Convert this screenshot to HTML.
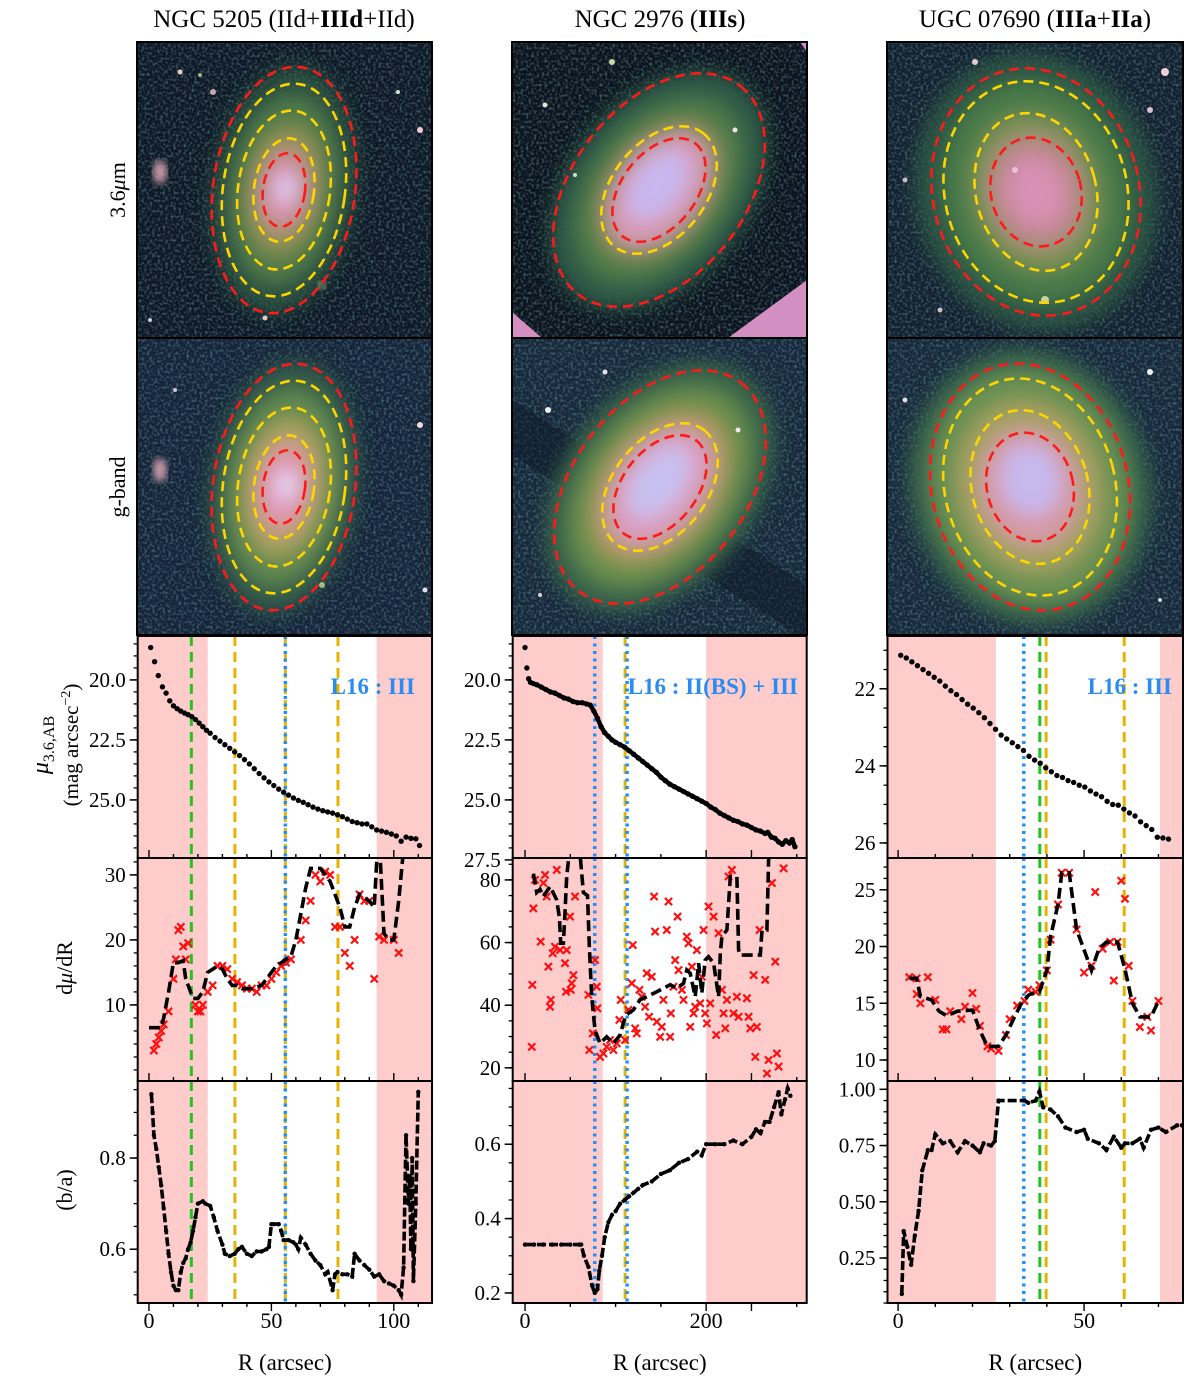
<!DOCTYPE html>
<html><head><meta charset="utf-8">
<style>
html,body{margin:0;padding:0;background:#fff;}
svg{display:block;font-family:"Liberation Serif","DejaVu Serif",serif;}
text{font-family:"Liberation Serif","DejaVu Serif",serif;}
</style></head>
<body>
<svg id="fig" width="1200" height="1392" viewBox="0 0 1200 1392" xmlns="http://www.w3.org/2000/svg" font-family="Liberation Serif, DejaVu Serif, serif">
<defs>
  <filter id="noise" x="0" y="0" width="100%" height="100%">
    <feTurbulence type="fractalNoise" baseFrequency="0.38" numOctaves="1" seed="3" result="t"/>
    <feColorMatrix in="t" type="matrix" values="0 0 0 0 0.12  0 0 0 0 0.30  0 0 0 0 0.30  0 0 0 1.6 -0.72"/>
  </filter>
  <filter id="blur8"><feGaussianBlur stdDeviation="9"/></filter>
  <filter id="blur4"><feGaussianBlur stdDeviation="4"/></filter>
  <clipPath id="c1a"><rect x="137" y="42" width="295" height="296"/></clipPath>
  <clipPath id="c1b"><rect x="137" y="338" width="295" height="297"/></clipPath>
  <clipPath id="c2a"><rect x="512" y="42" width="295" height="296"/></clipPath>
  <clipPath id="c2b"><rect x="512" y="338" width="295" height="297"/></clipPath>
  <clipPath id="c3a"><rect x="887" y="42" width="296" height="296"/></clipPath>
  <clipPath id="c3b"><rect x="887" y="338" width="296" height="297"/></clipPath>
</defs>

<text x="284" y="27" font-size="25" text-anchor="middle">NGC 5205 (IId+<tspan font-weight="bold">IIId</tspan>+IId)</text>
<text x="660" y="27" font-size="25" text-anchor="middle">NGC 2976 (<tspan font-weight="bold">IIIs</tspan>)</text>
<text x="1035" y="27" font-size="25" text-anchor="middle">UGC 07690 (<tspan font-weight="bold">IIIa</tspan>+<tspan font-weight="bold">IIa</tspan>)</text>

<text transform="translate(125,190) rotate(-90)" font-size="22" text-anchor="middle">3.6<tspan font-style="italic">μ</tspan>m</text>
<text transform="translate(125,487) rotate(-90)" font-size="22" text-anchor="middle">g-band</text>
<text transform="translate(48,745) rotate(-90)" font-size="24" text-anchor="middle"><tspan font-style="italic">μ</tspan><tspan font-size="16" dy="6">3.6,AB</tspan></text>
<text transform="translate(78,745) rotate(-90)" font-size="21" text-anchor="middle">(mag arcsec<tspan font-size="14" dy="-8">−2</tspan><tspan dy="8">)</tspan></text>
<text transform="translate(72,968) rotate(-90)" font-size="22" text-anchor="middle">d<tspan font-style="italic">μ</tspan>/dR</text>
<text transform="translate(72,1190) rotate(-90)" font-size="22" text-anchor="middle">(b/a)</text>

<g clip-path="url(#c1a)">
  <rect x="137" y="42" width="295" height="296" fill="#0f1826"/>
  <rect x="137" y="42" width="295" height="296" filter="url(#noise)"/>
  <g filter="url(#blur8)" transform="rotate(8 284 190)">
    <ellipse cx="284" cy="190" rx="72" ry="125" fill="#2f5a44" opacity="0.8"/>
    <ellipse cx="284" cy="190" rx="54" ry="95" fill="#4f7a48"/>
    <ellipse cx="284" cy="190" rx="38" ry="66" fill="#8c9152"/>
    <ellipse cx="284" cy="190" rx="26" ry="44" fill="#c58e8c"/>
    <ellipse cx="284" cy="190" rx="16" ry="26" fill="#e09ac6"/>
    <ellipse cx="286" cy="188" rx="8" ry="12" fill="#d8dcf8"/>
  </g>
  <ellipse cx="160" cy="172" rx="7" ry="12" fill="#c99aa8" filter="url(#blur4)"/>
  <circle cx="180" cy="72" r="2.5" fill="#e8d0c8"/><circle cx="420" cy="130" r="3" fill="#f5c8d8"/>
  <circle cx="398" cy="92" r="2" fill="#d8e0d0"/><circle cx="322" cy="285" r="4" fill="#9db27a" filter="url(#blur4)"/>
  <circle cx="265" cy="318" r="2.5" fill="#e0d0c0"/><circle cx="150" cy="320" r="2" fill="#d0c8d8"/>
  <circle cx="213" cy="92" r="3" fill="#c8a8b0"/><circle cx="200" cy="75" r="2" fill="#9ab880"/>
  <g transform="rotate(8 284 190)" fill="none" stroke-width="2.6" stroke-dasharray="10,6">
    <ellipse cx="284" cy="190" rx="71" ry="124" stroke="#ff1a1a"/>
    <ellipse cx="284" cy="190" rx="61" ry="107" stroke="#ffd500"/>
    <ellipse cx="284" cy="190" rx="46" ry="80" stroke="#ffd500"/>
    <ellipse cx="284" cy="190" rx="30" ry="52" stroke="#ffd500"/>
    <ellipse cx="284" cy="190" rx="21" ry="37" stroke="#ff1a1a"/>
  </g>
</g>
<g clip-path="url(#c1b)">
  <rect x="137" y="338" width="295" height="297" fill="#15243a"/>
  <rect x="137" y="338" width="295" height="297" filter="url(#noise)"/>
  <g filter="url(#blur8)" transform="rotate(8 284 487)">
    <ellipse cx="284" cy="487" rx="74" ry="128" fill="#30584a"/>
    <ellipse cx="284" cy="487" rx="58" ry="100" fill="#5d8650"/>
    <ellipse cx="284" cy="487" rx="42" ry="72" fill="#a0a058"/>
    <ellipse cx="284" cy="487" rx="29" ry="50" fill="#d29a90"/>
    <ellipse cx="284" cy="487" rx="18" ry="30" fill="#e69ac8"/>
    <ellipse cx="286" cy="485" rx="9" ry="13" fill="#e0e4fa"/>
  </g>
  <ellipse cx="160" cy="470" rx="7" ry="12" fill="#c99aa8" filter="url(#blur4)"/>
  <circle cx="420" cy="425" r="3" fill="#f5d8e0"/><circle cx="425" cy="590" r="2.5" fill="#e8e0e8"/>
  <circle cx="322" cy="585" r="3" fill="#a8b880"/><circle cx="175" cy="390" r="2" fill="#d0c8d0"/>
  <g transform="rotate(8 284 487)" fill="none" stroke-width="2.6" stroke-dasharray="10,6">
    <ellipse cx="284" cy="487" rx="71" ry="124" stroke="#ff1a1a"/>
    <ellipse cx="284" cy="487" rx="61" ry="107" stroke="#ffd500"/>
    <ellipse cx="284" cy="487" rx="46" ry="80" stroke="#ffd500"/>
    <ellipse cx="284" cy="487" rx="30" ry="52" stroke="#ffd500"/>
    <ellipse cx="284" cy="487" rx="21" ry="37" stroke="#ff1a1a"/>
  </g>
</g>
<g clip-path="url(#c2a)">
  <rect x="512" y="42" width="295" height="296" fill="#0c131e"/>
  <rect x="512" y="42" width="295" height="296" filter="url(#noise)"/>
  <g filter="url(#blur8)" transform="rotate(-52 659 190)">
    <ellipse cx="659" cy="190" rx="135" ry="90" fill="#2f5a46"/>
    <ellipse cx="659" cy="190" rx="105" ry="68" fill="#4d7a48"/>
    <ellipse cx="659" cy="190" rx="80" ry="52" fill="#8a8c56"/>
    <ellipse cx="659" cy="190" rx="64" ry="40" fill="#d89ab6"/>
    <ellipse cx="662" cy="186" rx="40" ry="24" fill="#c8b8ee"/>
  </g>
  <polygon points="807,280 807,338 728,338" fill="#d38fc2"/>
  <polygon points="512,312 512,338 542,338" fill="#d38fc2"/>
  <polygon points="800,42 807,42 807,52" fill="#d38fc2"/>
  <circle cx="545" cy="105" r="2.5" fill="#e0e8d8"/><circle cx="735" cy="130" r="2.5" fill="#f0e0e8"/>
  <circle cx="612" cy="62" r="3" fill="#c8d8b0"/><circle cx="575" cy="175" r="2" fill="#d0e0c8"/>
  <g transform="rotate(-52 659 190)" fill="none" stroke-width="2.6" stroke-dasharray="10,6">
    <ellipse cx="659" cy="190" rx="132" ry="86" stroke="#ff1a1a"/>
    <ellipse cx="659" cy="190" rx="72" ry="47" stroke="#ffd500"/>
    <ellipse cx="659" cy="190" rx="59" ry="37" stroke="#ff1a1a"/>
  </g>
</g>
<g clip-path="url(#c2b)">
  <rect x="512" y="338" width="295" height="297" fill="#17283c"/>
  <rect x="512" y="338" width="295" height="297" filter="url(#noise)"/>
  <polygon points="512,400 512,455 807,640 807,585" fill="#0e1826" opacity="0.5"/>
  <g filter="url(#blur8)" transform="rotate(-52 660 487)">
    <ellipse cx="660" cy="487" rx="140" ry="95" fill="#3a6648"/>
    <ellipse cx="660" cy="487" rx="112" ry="74" fill="#6a8e4e"/>
    <ellipse cx="660" cy="487" rx="86" ry="56" fill="#b09a62"/>
    <ellipse cx="660" cy="487" rx="66" ry="42" fill="#dc9cbc"/>
    <ellipse cx="663" cy="483" rx="42" ry="25" fill="#c8c0f0"/>
  </g>
  <circle cx="548" cy="410" r="3" fill="#f0f0f0"/><circle cx="605" cy="372" r="2.5" fill="#e0e8e0"/>
  <circle cx="738" cy="430" r="2.5" fill="#f0e8f0"/><circle cx="540" cy="595" r="2" fill="#d0d8d0"/>
  <g transform="rotate(-52 660 487)" fill="none" stroke-width="2.6" stroke-dasharray="10,6">
    <ellipse cx="660" cy="487" rx="132" ry="86" stroke="#ff1a1a"/>
    <ellipse cx="660" cy="487" rx="72" ry="47" stroke="#ffd500"/>
    <ellipse cx="660" cy="487" rx="59" ry="37" stroke="#ff1a1a"/>
  </g>
</g>
<g clip-path="url(#c3a)">
  <rect x="887" y="42" width="296" height="296" fill="#132030"/>
  <rect x="887" y="42" width="296" height="296" filter="url(#noise)"/>
  <g filter="url(#blur8)" transform="rotate(-15 1036 192)">
    <ellipse cx="1036" cy="192" rx="120" ry="140" fill="#2f5c46" opacity="0.85"/>
    <ellipse cx="1036" cy="192" rx="92" ry="112" fill="#4a7a4a"/>
    <ellipse cx="1036" cy="192" rx="64" ry="80" fill="#7f9156"/>
    <ellipse cx="1036" cy="192" rx="46" ry="56" fill="#c0888e"/>
    <ellipse cx="1036" cy="192" rx="28" ry="34" fill="#d890b4"/>
  </g>
  <circle cx="975" cy="62" r="3" fill="#e8c8d0"/><circle cx="1165" cy="72" r="4" fill="#f0d0d8"/>
  <circle cx="1150" cy="110" r="3" fill="#e0c0d0"/><circle cx="905" cy="180" r="2.5" fill="#d0b8c8"/>
  <circle cx="1045" cy="300" r="4" fill="#c8d0a0"/><circle cx="940" cy="310" r="2.5" fill="#d0c0c8"/>
  <circle cx="1015" cy="170" r="3" fill="#f0c0e0"/>
  <g transform="rotate(-15 1036 192)" fill="none" stroke-width="2.6" stroke-dasharray="10,6">
    <ellipse cx="1036" cy="192" rx="103" ry="125" stroke="#ff1a1a"/>
    <ellipse cx="1036" cy="192" rx="91" ry="112" stroke="#ffd500"/>
    <ellipse cx="1036" cy="192" rx="60" ry="80" stroke="#ffd500"/>
    <ellipse cx="1036" cy="192" rx="45" ry="55" stroke="#ff1a1a"/>
  </g>
</g>
<g clip-path="url(#c3b)">
  <rect x="887" y="338" width="296" height="297" fill="#17283c"/>
  <rect x="887" y="338" width="296" height="297" filter="url(#noise)"/>
  <g filter="url(#blur8)" transform="rotate(-15 1030 487)">
    <ellipse cx="1030" cy="487" rx="120" ry="140" fill="#3a6a4a" opacity="0.9"/>
    <ellipse cx="1030" cy="487" rx="98" ry="118" fill="#6a9052"/>
    <ellipse cx="1030" cy="487" rx="72" ry="88" fill="#a4a060"/>
    <ellipse cx="1030" cy="487" rx="50" ry="60" fill="#d69aa8"/>
    <ellipse cx="1032" cy="480" rx="30" ry="36" fill="#c8b8ec"/>
  </g>
  <circle cx="1150" cy="372" r="3" fill="#f0f0f0"/><circle cx="905" cy="400" r="2.5" fill="#e0e0e0"/>
  <circle cx="1160" cy="600" r="2" fill="#d8d8d8"/>
  <g transform="rotate(-15 1030 487)" fill="none" stroke-width="2.6" stroke-dasharray="10,6">
    <ellipse cx="1030" cy="487" rx="98" ry="125" stroke="#ff1a1a"/>
    <ellipse cx="1030" cy="487" rx="85" ry="110" stroke="#ffd500"/>
    <ellipse cx="1030" cy="487" rx="58" ry="78" stroke="#ffd500"/>
    <ellipse cx="1030" cy="487" rx="43" ry="55" stroke="#ff1a1a"/>
  </g>
</g>
<g fill="none" stroke="#000" stroke-width="2">
  <rect x="137" y="42" width="295" height="296"/><rect x="137" y="338" width="295" height="297"/>
  <rect x="512" y="42" width="295" height="296"/><rect x="512" y="338" width="295" height="297"/>
  <rect x="887" y="42" width="296" height="296"/><rect x="887" y="338" width="296" height="297"/>
</g>
<g id="plots" font-family="Liberation Serif, DejaVu Serif, serif"></g>
</svg>

<script>
// NGC 5205
const c1ProfR  = [0.7,2.3,3.8,5.5,7,8.5,10,11.5,13,14.5,16,17.5,19,20.5,22,23.5,25,27,29,31,33,35,37,39,41,43,45,47,49,51,53,55,57,59,61,63,65,67,69,71,73,75,77,79,81,83,85,87,89,91,93,95,97,99,101,103,105,107,109,110.5];
const c1ProfMu = [18.65,19.24,19.82,20.29,20.55,20.87,21.08,21.2,21.3,21.38,21.45,21.53,21.65,21.8,21.95,22.1,22.22,22.4,22.55,22.7,22.85,23.0,23.15,23.32,23.5,23.7,23.9,24.08,24.25,24.4,24.55,24.68,24.8,24.92,25.02,25.1,25.2,25.3,25.38,25.45,25.5,25.55,25.62,25.7,25.8,25.9,25.95,26.0,26.0,26.12,26.25,26.3,26.35,26.42,26.5,26.72,26.55,26.6,26.62,26.9];
const c1DmR    = [0,5,6,8,10,12,14,15,17,18,20,22,24,26,28,30,32,34,36,38,42,46,48,50,52,54,56,58,60,62,64,66,68,70,72,74,76,78,80,82,84,86,88,90,92,93,94,96,98,100,102,104];
const c1DmV    = [6.5,6.5,8,12,16.5,16.5,16.8,14,12,11,11,12,15,15.5,16,15.5,14,13,13,12.5,12.5,13,14,15,16,16.5,17,17.5,20,24,28,31,31,31,30,29,27,25,22,22,25,27,26.5,26,25,32,36,21,20,20,26,34];
const c1XR     = [2,3,4,5,6,8,10,11,12,13,14,15,16,19,20,21,22,24,26,28,30,32,34,36,38,40,42,44,46,48,50,52,54,56,58,62,64,66,68,70,72,74,76,78,80,82,84,86,88,90,92,94,96,100,102];
const c1XV     = [3,4,5,6,7,9,14,17,21.5,22,19,17,19.5,10,9,9,10,12,13,16,16,15.5,14,13.5,13,12.5,12.5,12,13,13,14,15,16,16.5,17,20,23,26,30,29,30.5,30,22,22,18,16,20,27,26,26,14,20.5,20,20,18];
const c1BaR    = [1,1.5,2,3,4,5,6,7,8,9,10,11,12,13,14,15,16,17,18,19,20,22,23,25,26.5,28,30,31,33,35,36.5,38,40,42,44,46,48,49,50,51,53,54,55,57,59,60,61,62,64,66,68,70,72,73,75,76,77,79,81,83,84,86,88,90,92,94,96,98,100,102,103,104,105,106,106.5,107,107.5,108,109,110];
const c1BaV    = [0.94,0.9,0.85,0.82,0.78,0.74,0.69,0.64,0.59,0.55,0.52,0.51,0.51,0.55,0.57,0.58,0.6,0.615,0.64,0.67,0.7,0.705,0.7,0.695,0.67,0.64,0.61,0.59,0.585,0.59,0.6,0.605,0.59,0.585,0.595,0.595,0.6,0.605,0.655,0.655,0.655,0.64,0.62,0.62,0.615,0.61,0.6,0.625,0.61,0.59,0.575,0.565,0.545,0.55,0.51,0.545,0.55,0.545,0.545,0.54,0.59,0.575,0.565,0.555,0.54,0.545,0.53,0.525,0.52,0.51,0.5,0.56,0.85,0.7,0.76,0.6,0.8,0.53,0.7,0.945];
const c1Pink   = [[-10,24],[93,130]];
const c1Lines  = [{r:17.3,c:'#22c322',s:'dash'},{r:35.1,c:'#e6b400',s:'dash'},{r:55.7,c:'#e6b400',s:'dash'},{r:55.7,c:'#1e90ff',s:'dot'},{r:77.2,c:'#e6b400',s:'dash'}];

// NGC 2976
const c2ProfR  = [0,2,4,6,9,13,18,23,28,33,38,43,48,53,58,63,68,72,76,80,84,88,92,96,100,105,110,115,120,125,130,135,140,145,150,155,160,165,170,175,180,185,190,195,200,205,210,215,220,225,230,235,240,245,250,255,260,265,268,272,276,280,284,288,292,295,298];
const c2ProfMu = [18.65,19.5,19.95,20.1,20.15,20.2,20.3,20.4,20.5,20.55,20.65,20.75,20.8,20.9,20.95,20.95,21.0,21.05,21.3,21.6,21.95,22.2,22.35,22.5,22.6,22.7,22.8,22.95,23.1,23.25,23.4,23.55,23.7,23.85,24.05,24.2,24.35,24.45,24.55,24.65,24.75,24.85,24.95,25.05,25.15,25.3,25.4,25.55,25.65,25.75,25.85,25.9,26.0,26.05,26.15,26.25,26.3,26.4,26.35,26.55,26.6,26.75,26.85,26.7,26.8,26.65,26.95];
const c2DmR    = [9.2,12.9,16.6,20.3,27.6,31.3,35,38,39.4,42.4,44,46,48.6,60.8,64.5,69,71,73.6,77.3,82.9,90.2,97.6,105,110.5,114.2,119.7,127,134.4,145.5,152.8,160.2,167.6,175,178.6,182.4,187.9,191.6,195.2,198.9,202.6,208.2,213.7,215.6,217.4,222.9,226.6,233.9,235.8,237.6,259.8,261.7,267.1,269];
const c2DmV    = [82,76,77,74.7,77.9,75.8,73.6,68,59.8,59.8,69,81,88,88,76,75,59,42.7,32,27.8,29.9,27.8,30.5,36.3,37.4,38.5,41.7,42.7,44.3,45.4,46.5,45.4,47,51.2,50.2,42.7,53.4,43.8,54.4,55.5,53.4,42.7,56.6,61.9,64,81,81,57.6,56,56,64,64,88];
const c2XR     = [7.4,8.1,9.2,11,17.3,20.3,22.1,23.9,25.8,27.6,28.4,30.6,33.1,35,38.7,44.2,46,49.7,50.5,51.6,53.4,55.2,45.3,70,71,74.8,77.3,79.2,79.9,82.9,86.6,90.2,93.9,97.6,101.3,104.2,105.7,110.5,114.2,117.9,119,121.6,123.4,126.4,128.9,132.6,134.4,137,139.9,142.5,143.6,145.5,149.2,151,152.8,156.5,158.4,160.2,161,163.9,165.8,168.4,169.5,173.2,175,178.6,180.5,182.4,184.2,186.1,187.9,189.7,193.4,195.2,197.1,198.9,200.8,202.6,204.5,208.2,211.1,213.7,217.4,219.2,221.1,222.9,224.7,228.4,230.2,233.9,235.8,245,246.8,248.7,252.4,254.2,256,259,265.2,267.1,268.9,272.6,276.3,278.1,280,285.5];
const c2XV     = [26.7,46.5,70.9,80,60.3,79,81.6,74.7,52.3,39.5,41.7,56.6,58.7,83.2,57.6,53.4,57.6,68.3,44.9,47,49.6,74.7,44.3,43.3,25.7,31,54.4,45.9,39,23.5,24.6,26.7,28.9,25.7,27.8,35.3,41.7,28.9,38.5,47,59.2,32.6,31,44.9,42.7,39.5,50.2,36.3,49.1,74.7,63.5,34.7,29.9,33.1,41.7,64,73.1,29.9,37.4,45.9,54.4,68.3,51.2,44.9,41.7,61.9,59.8,33.1,52.3,37.4,39.5,57.6,40.6,49.1,64,37.4,34.2,71.5,40.6,68.3,30.5,63,44.9,37.4,32.6,41.7,81.1,83.2,37.4,42.7,36.3,42.2,36.3,32.6,49.6,23.5,33.1,64,48.1,18.2,22.5,79,53.9,24.6,20.4,83.7];
const c2BaR    = [0,10,20,30,40,50,60,62,65,70,74,77,80,82,85,88,92,96,100,105,110,115,120,125,130,140,150,160,170,180,190,195,200,210,220,230,240,250,255,260,265,270,275,280,283,287,290,293];
const c2BaV    = [0.33,0.33,0.33,0.33,0.33,0.33,0.33,0.33,0.3,0.27,0.22,0.2,0.21,0.26,0.3,0.35,0.39,0.41,0.42,0.44,0.45,0.46,0.47,0.48,0.49,0.5,0.52,0.53,0.55,0.56,0.58,0.57,0.6,0.6,0.6,0.61,0.6,0.62,0.64,0.63,0.66,0.66,0.7,0.74,0.68,0.72,0.75,0.73];
const c2Pink   = [[-20,85.8],[200,330]];
const c2Lines  = [{r:77,c:'#1e90ff',s:'dot'},{r:110.5,c:'#e6b400',s:'dash'},{r:112.7,c:'#1e90ff',s:'dot'}];

// UGC 07690
const c3ProfR  = [0.7,2.2,3.7,5.2,6.7,8.2,9.7,11.2,12.7,14.2,15.7,17.2,18.7,20.2,21.7,23.2,24.7,26.2,27.7,29.2,30.7,32.2,33.7,35.2,36.7,38.2,39.7,41.2,42.7,44.2,45.7,47.2,48.7,50.2,51.7,53.2,54.7,56.2,57.7,59.2,60.7,62.2,63.7,65.2,66.7,68.2,69.7,71.2,72.7];
const c3ProfMu = [21.13,21.2,21.3,21.4,21.5,21.6,21.7,21.8,21.93,22.05,22.15,22.28,22.4,22.5,22.62,22.75,22.9,23.05,23.2,23.3,23.4,23.5,23.6,23.75,23.85,23.93,24.05,24.15,24.25,24.3,24.38,24.43,24.5,24.55,24.65,24.73,24.8,24.92,25.0,25.02,25.12,25.22,25.3,25.45,25.55,25.65,25.85,25.87,25.9];
const c3DmR    = [3,5,6,9,11,13,16,20,22,24,27,29,31,33,35,37,38,40,41,43,44,46,48,50,52,54,56,59,61,63,65,68,70];
const c3DmV    = [17.2,17.2,15.6,15.3,14.3,13.9,14.3,14.4,12.6,11.2,11.2,12.2,13.6,14.9,15.7,16,16,17.9,20.9,23.7,26.5,26.5,21.5,19.7,17.9,19.8,20.4,20.4,18,15,13.8,13.8,15.2];
const c3XR     = [3,5,5,6,8,10,12,13,14,17,18,20,21,22,24,25,27,29,30,32,34,35,37,38,40,41,43,44,46,48,50,52,53,55,57,58,59,60,61,62,63,65,67,68,70];
const c3XV     = [17.3,17.2,15.8,15,17.3,15.3,12.7,12.7,14.3,13.6,14.7,15.9,14.5,13,11.2,11,10.8,12.2,13.6,14.8,15.2,16.2,16,16.6,17.9,20.6,23.7,26.5,26.5,21.5,17.7,18.3,24.8,19.8,20.4,17,20.4,25.8,24.2,18.3,15.2,12.9,13.8,12.6,15.2];
const c3BaR    = [1,1.5,2.5,3.5,4.5,5.5,6.5,8,9,10,12,14,16,18,20,22,23,25,26,27,34,35,37,38,39,41,43,45,48,50,51,54,56,58,60,61,63,65,66,68,70,72,75,76.3];
const c3BaV    = [0.09,0.37,0.3,0.22,0.35,0.46,0.64,0.73,0.73,0.8,0.76,0.77,0.72,0.77,0.75,0.72,0.76,0.75,0.77,0.95,0.95,0.94,0.95,0.99,0.92,0.91,0.88,0.83,0.81,0.82,0.78,0.76,0.73,0.79,0.74,0.76,0.76,0.78,0.74,0.82,0.83,0.81,0.84,0.84];
const c3Pink   = [[-10,26.3],[70.4,90]];
const c3Lines  = [{r:33.8,c:'#1e90ff',s:'dot'},{r:38.1,c:'#22c322',s:'dash'},{r:39.8,c:'#e6b400',s:'dash'},{r:60.8,c:'#e6b400',s:'dash'}];

const c1XTicks = [0,50,100];   const c2XTicks = [0,200];   const c3XTicks = [0,50];
const c1MuTicks = [20.0,22.5,25.0]; const c2MuTicks = [20.0,22.5,25.0,27.5]; const c3MuTicks = [22,24,26];
const c1DmTicks = [10,20,30]; const c2DmTicks = [20,40,60,80]; const c3DmTicks = [10,15,20,25];
const c1BaTicks = [0.6,0.8]; const c2BaTicks = [0.2,0.4,0.6]; const c3BaTicks = [0.25,0.50,0.75,1.00];

const NS = 'http://www.w3.org/2000/svg';
const FONT = '"Liberation Serif", "DejaVu Serif", serif';
const root = document.getElementById('plots');
function mk(tag, attrs, parent){
  const el = document.createElementNS(NS, tag);
  for (const k in attrs) el.setAttribute(k, attrs[k]);
  if (tag === 'text') el.style.fontFamily = FONT;
  (parent || root).appendChild(el);
  return el;
}
const ROWS = {prof:[636,858], dm:[858,1081], ba:[1081,1303]};
const cols = [
  {key:'ngc5205', x0:137.7, x1:432, xr:[-4.6,115.6], xt:c1XTicks, xminor:10,
   prof:{r:c1ProfR,v:c1ProfMu,lim:[18.17,27.42],t:c1MuTicks,minor:0.5,dec:1,dense:false},
   dm:{r:c1DmR,v:c1DmV,xr:c1XR,xv:c1XV,lim:[32.6,-1.7],t:c1DmTicks,minor:2,dec:0},
   ba:{r:c1BaR,v:c1BaV,lim:[0.969,0.482],t:c1BaTicks,minor:0.05,dec:1},
   pink:c1Pink, lines:c1Lines, l16:'L16 : III', l16x:415},
  {key:'ngc2976', x0:512.7, x1:806.7, xr:[-13.6,311], xt:c2XTicks, xminor:50,
   prof:{r:c2ProfR,v:c2ProfMu,lim:[18.17,27.42],t:c2MuTicks,minor:0.5,dec:1,dense:true},
   dm:{r:c2DmR,v:c2DmV,xr:c2XR,xv:c2XV,lim:[87.0,15.8],t:c2DmTicks,minor:5,dec:0},
   ba:{r:c2BaR,v:c2BaV,lim:[0.77,0.173],t:c2BaTicks,minor:0.05,dec:1},
   pink:c2Pink, lines:c2Lines, l16:'L16 : II(BS) + III', l16x:798},
  {key:'ugc07690', x0:887.5, x1:1183, xr:[-2.85,76.6], xt:c3XTicks, xminor:10,
   prof:{r:c3ProfR,v:c3ProfMu,lim:[20.63,26.39],t:c3MuTicks,minor:0.5,dec:0,dense:false},
   dm:{r:c3DmR,v:c3DmV,xr:c3XR,xv:c3XV,lim:[27.8,8.15],t:c3DmTicks,minor:1,dec:0},
   ba:{r:c3BaR,v:c3BaV,lim:[1.037,0.05],t:c3BaTicks,minor:0.05,dec:2},
   pink:c3Pink, lines:c3Lines, l16:'L16 : III', l16x:1172}
];

cols.forEach(function(c){
  const sx = function(r){ return c.x0 + (r - c.xr[0])/(c.xr[1]-c.xr[0])*(c.x1-c.x0); };
  ['prof','dm','ba'].forEach(function(rowKey){
    const P = c[rowKey];
    const y0 = ROWS[rowKey][0], y1 = ROWS[rowKey][1];
    const sy = function(v){ return y0 + (v - P.lim[0])/(P.lim[1]-P.lim[0])*(y1-y0); };
    const g = mk('g', {});
    
    
    const cid = 'clip-' + c.key + '-' + rowKey;
    const cp = mk('clipPath', {id:cid}, g);
    mk('rect', {x:c.x0, y:y0, width:c.x1-c.x0, height:y1-y0}, cp);
    const inner = mk('g', {'clip-path':'url(#'+cid+')'}, g);
    c.pink.forEach(function(p){
      const rr = mk('rect', {x:sx(p[0]), y:y0, width:sx(p[1])-sx(p[0]), height:y1-y0, fill:'#ffcccc'}, inner);
      
      
    });
    c.lines.forEach(function(L){
      const ln = mk('line', {x1:sx(L.r), x2:sx(L.r), y1:y0, y2:y1, stroke:L.c, 'stroke-width': L.s==='dot'?3.5:3, 'stroke-dasharray': L.s==='dot'?'3,4.5':'10,6'}, inner);
      
      
    });
    if (rowKey === 'prof'){
      if (P.dense){
        let d = '';
        P.r.forEach(function(r,i){ if (i>=3) d += (i===3?'M':'L') + sx(r).toFixed(1) + ',' + sy(P.v[i]).toFixed(1); });
        const pl = mk('path', {d:d, fill:'none', stroke:'#000', 'stroke-width':4.5, 'stroke-linejoin':'round'}, inner);
        
        
      }
      P.r.forEach(function(r,i){
        const dot = mk('circle', {cx:sx(r), cy:sy(P.v[i]), r:2.7, fill:'#000'}, inner);
        
        
      });
      const t = mk('text', {x:c.l16x, y:694, 'font-size':23, 'font-weight':'bold', fill:'#2a8cf0', 'text-anchor':'end'}, g);
      t.textContent = c.l16;
      
      
    } else if (rowKey === 'dm'){
      P.xr.forEach(function(r,i){
        const x = sx(r), y = sy(P.xv[i]), s = 3.6;
        const cr = mk('path', {d:'M'+(x-s)+','+(y-s)+'L'+(x+s)+','+(y+s)+'M'+(x-s)+','+(y+s)+'L'+(x+s)+','+(y-s), stroke:'#ff1010', 'stroke-width':2.2, fill:'none'}, inner);
        
        
      });
      let d = '';
      P.r.forEach(function(r,i){ d += (i===0?'M':'L') + sx(r).toFixed(1) + ',' + sy(P.v[i]).toFixed(1); });
      const pl = mk('path', {d:d, fill:'none', stroke:'#000', 'stroke-width':3.6, 'stroke-dasharray':'11,5'}, inner);
      
      
    } else {
      let d = '';
      P.r.forEach(function(r,i){ d += (i===0?'M':'L') + sx(r).toFixed(1) + ',' + sy(P.v[i]).toFixed(1); });
      const pl = mk('path', {d:d, fill:'none', stroke:'#000', 'stroke-width':3.6, 'stroke-dasharray':'9,3'}, inner);
      
      
      P.r.forEach(function(r,i){
        const dot = mk('circle', {cx:sx(r), cy:sy(P.v[i]), r:2.2, fill:'#000'}, inner);
        
        
      });
    }
    const fr = mk('rect', {x:c.x0, y:y0, width:c.x1-c.x0, height:y1-y0, fill:'none', stroke:'#000', 'stroke-width':2}, g);
    
    
    const lo = Math.min(P.lim[0],P.lim[1]), hi = Math.max(P.lim[0],P.lim[1]);
    for (let v = Math.ceil(lo/P.minor-1e-6)*P.minor; v <= hi+1e-9; v += P.minor){
      const tk = mk('line', {x1:c.x0-4, x2:c.x0, y1:sy(v), y2:sy(v), stroke:'#000', 'stroke-width':1.3}, g);
      
      
    }
    P.t.forEach(function(v){
      const tk = mk('line', {x1:c.x0-8, x2:c.x0, y1:sy(v), y2:sy(v), stroke:'#000', 'stroke-width':1.5}, g);
      
      
      const tl = mk('text', {x:c.x0-12, y:sy(v)+7, 'font-size':21, 'text-anchor':'end'}, g);
      tl.textContent = v.toFixed(P.dec);
      
      
    });
    const bottom = rowKey === 'ba';
    const dir = bottom ? 1 : -1;
    for (let r = Math.ceil(c.xr[0]/c.xminor)*c.xminor; r <= c.xr[1]; r += c.xminor){
      const major = c.xt.indexOf(r) >= 0 || (r % (c.xminor*5) === 0);
      const len = major ? 8 : 4;
      const tk = mk('line', {x1:sx(r), x2:sx(r), y1:y1, y2:y1+dir*len, stroke:'#000', 'stroke-width':1.4}, g);
      
      
    }
    if (bottom){
      c.xt.forEach(function(r){
        const tl = mk('text', {x:sx(r), y:1328, 'font-size':22, 'text-anchor':'middle'}, g);
        tl.textContent = String(r);
        
        
      });
      const xt = mk('text', {x:(c.x0+c.x1)/2, y:1370, 'font-size':23, 'text-anchor':'middle'}, g);
      xt.textContent = 'R (arcsec)';
      
      
    }
  });
});
</script>
</body></html>
